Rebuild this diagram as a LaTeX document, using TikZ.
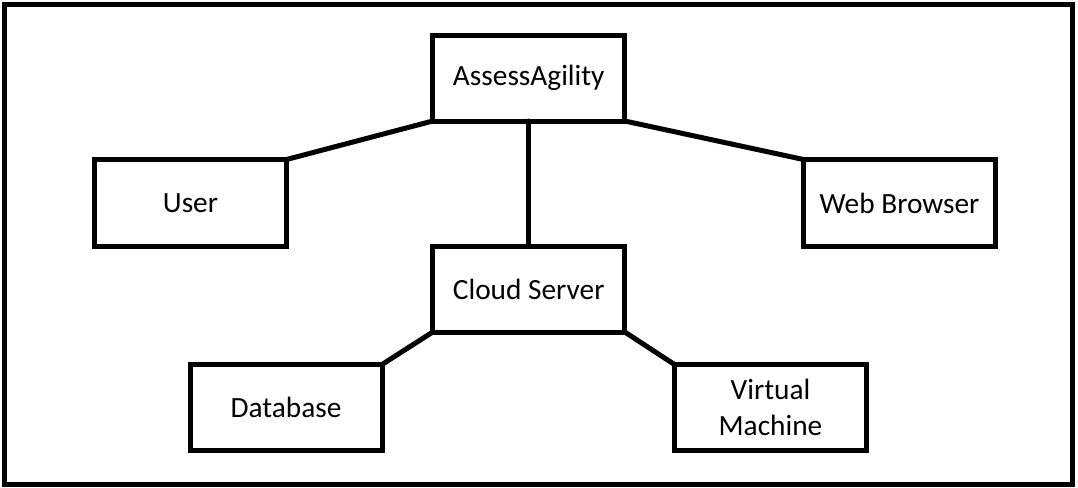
\documentclass[tikz,border=0pt]{standalone}
\usepackage{fontspec}
\setmainfont{Carlito}
\begin{document}
\begin{tikzpicture}[x=0.75pt,y=-0.75pt,
  box/.style={draw=black, line width=3.75pt, rectangle, inner sep=0pt, outer sep=0pt,
    minimum width=144pt, minimum height=64.5pt, align=center,
    font=\fontsize{22}{26.5}\selectfont},
  link/.style={draw=black, line width=3.75pt, line cap=round}]
  % page frame
  \useasboundingbox (0,0) rectangle (1078,487);
  \draw[line width=3.75pt] (4.5,4.5) rectangle (1072,484);

  % components
  \node[box] (app)   at (528.75,78)  {AssessAgility};
  \node[box, minimum height=65.25pt] (user)  at (190.5,203)  {User};
  \node[box, minimum height=65.25pt] (web)   at (899.5,203)  {Web Browser};
  \node[box] (cloud) at (528.75,289) {Cloud Server};
  \node[box] (db)    at (286,407.5)  {Database};
  \node[box] (vm)    at (770.5,407.5) {Virtual\\Machine};

  % connections
  \draw[link] (app.south west) -- (user.north east);
  \draw[link] (app.south east) -- (web.north west);
  \draw[link] (app.south) -- (cloud.north);
  \draw[link] (cloud.south west) -- (db.north east);
  \draw[link] (cloud.south east) -- (vm.north west);
\end{tikzpicture}
\end{document}
